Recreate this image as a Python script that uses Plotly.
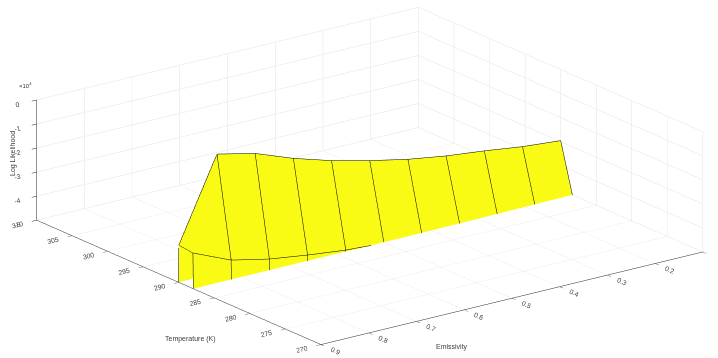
import plotly.graph_objects as go

# Grid of the likelihood evaluation
emissivity = [0.9, 0.82, 0.74, 0.66, 0.58, 0.5, 0.42, 0.34, 0.26, 0.18, 0.1]
temperature = [286, 288, 290, 292]

# Log likelihood, one row per temperature, one value per emissivity
loglik_286 = [-812000, -905000, -958000, -1003000, -1041000, -1072000,
              -1098000, -1118000, -1135000, -1149000, -1160000]
loglik_288 = [-35200, -42000, -45400, -47600, -49400, -50300,
              -51000, -51500, -52500, -53500, -54500]
loglik_290 = [-34500, -450, -4050, -9950, -14750, -18600,
              -21900, -24350, -26100, -28200, -29550]
loglik_292 = [-742000, -688000, -702000, -731000, -760000, -786000,
              -808000, -826000, -842000, -856000, -868000]

z_ticks = [-50000, -40000, -30000, -20000, -10000, 0]
z_ticktext = ["-5", "-4", "-3", "-2", "-1", "0"]
t_ticks = [270, 275, 280, 285, 290, 295, 300, 305, 310]
e_ticks = [0.1, 0.2, 0.3, 0.4, 0.5, 0.6, 0.7, 0.8, 0.9]

# emissivity runs right-to-left, so it is plotted on a negated axis
ex = [-e for e in emissivity]

YELLOW = "#F9FB15"
INK = "#262626"
TEXT = "#404040"
FONT = "Liberation Sans, Arial, sans-serif"
FLAT = dict(ambient=1, diffuse=0, specular=0, roughness=1, fresnel=0)
SOLID = [[0, YELLOW], [1, YELLOW]]

# front part of the ridge (T <= 290) with the full mesh
front = go.Surface(
    x=ex, y=temperature[:3], z=[loglik_286, loglik_288, loglik_290],
    colorscale=SOLID, showscale=False, lighting=FLAT, hoverinfo="skip",
    contours=dict(
        x=dict(show=True, start=-0.9, end=-0.1, size=0.08, color="black",
               width=2, highlight=False),
        # the 290 K row sits on the edge of this patch, so its line is
        # traced a hair inside it
        y=dict(show=True, start=288, end=290, size=1.999, color="black",
               width=2, highlight=False),
        z=dict(highlight=False),
    ),
)

# back flank (T >= 290); only its edge at the highest emissivity shows
back = go.Surface(
    x=ex[:2], y=temperature[2:],
    z=[loglik_290[:2], loglik_292[:2]],
    colorscale=SOLID, showscale=False, lighting=FLAT, hoverinfo="skip",
    contours=dict(
        x=dict(show=True, start=-0.9, end=-0.9, size=0.08, color="black",
               width=2, highlight=False),
        y=dict(highlight=False),
        z=dict(highlight=False),
    ),
)

axis_common = dict(
    showbackground=False,
    gridcolor="#e3e3e3",
    gridwidth=1,
    showline=True,
    linecolor=INK,
    linewidth=1,
    ticks="outside",
    tickcolor=INK,
    ticklen=6,
    tickfont=dict(size=9, color=TEXT, family=FONT),
    zeroline=False,
    showspikes=False,
    title=dict(text=""),
)

SCALE = 2.66
EYE_DIR = (-0.5645 * 2, -0.758 * 2, 0.3256 * 2)
SHIFT = (-0.048, 0.036, -0.018)


def label(text, px, py, **kw):
    return dict(text=text, x=px / 718, y=1 - py / 358, xref="paper",
                yref="paper", showarrow=False, xanchor="center",
                yanchor="middle",
                font=dict(size=kw.pop("size", 7), color=TEXT, family=FONT),
                **kw)


fig = go.Figure([front, back])
fig.update_layout(
    width=718, height=358,
    margin=dict(l=0, r=0, t=0, b=0),
    paper_bgcolor="white",
    font=dict(family=FONT, color=TEXT),
    scene=dict(
        domain=dict(x=[0, 1], y=[0, 1]),
        xaxis=dict(axis_common, range=[-0.9, -0.1],
                   tickvals=[-e for e in e_ticks],
                   ticktext=["" if e == 0.1 else f"{e:.1f}" for e in e_ticks]),
        yaxis=dict(axis_common, range=[270, 310], tickvals=t_ticks,
                   ticktext=[str(t) for t in t_ticks]),
        zaxis=dict(axis_common, range=[-50000, 0], tickvals=z_ticks,
                   ticktext=z_ticktext),
        aspectmode="manual",
        aspectratio=dict(x=SCALE, y=SCALE, z=0.267 * SCALE),
        camera=dict(
            projection=dict(type="orthographic"),
            up=dict(x=0, y=0, z=1),
            center=dict(x=SHIFT[0], y=SHIFT[1], z=SHIFT[2]),
            eye=dict(x=EYE_DIR[0] + SHIFT[0], y=EYE_DIR[1] + SHIFT[1],
                     z=EYE_DIR[2] + SHIFT[2]),
        ),
    ),
    annotations=[
        label("Log Likelihood", 13, 154, textangle=-90),
        label("Temperature (K)", 190, 339),
        label("Emissivity", 452, 347),
        label("\u00d710<sup>4</sup>", 25, 85, size=6),
    ],
)

fig.write_html("out.html")
